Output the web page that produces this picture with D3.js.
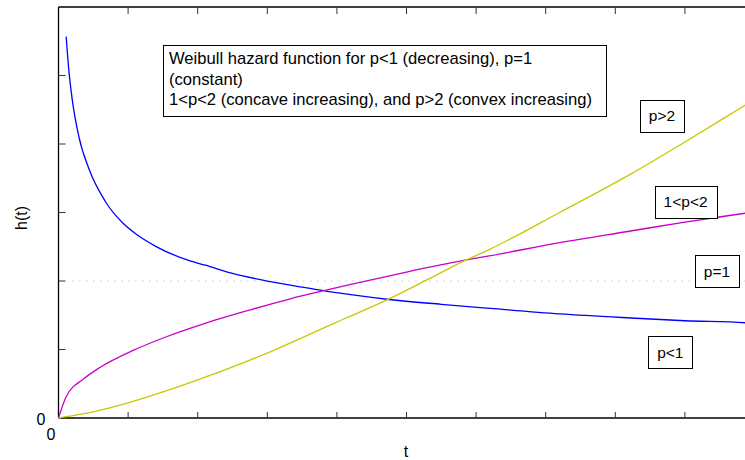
<!DOCTYPE html>
<html><head><meta charset="utf-8">
<script src="https://cdn.jsdelivr.net/npm/d3@7"></script>
<style>body{margin:0;background:#fff}svg{display:block;font-family:"Liberation Sans",Arial,sans-serif}</style>
</head><body><svg id="c" width="745" height="460"></svg>
<script>
// ---- data ----
const xTicks = [0,1,2,3,4,5,6,7,8,9,10];
const yTicks = [0,1,2,3,4,5,6];
const decreasingT = [0.11,0.15,0.20,0.29,0.44,0.68,0.92,1.15,1.39,1.87,2.11,2.5,3.05,3.5,3.86,4.20,4.75,5.5,6.21,7.2,8.22,9.0,9.87,10];
const decreasingH = [5.57,5.06,4.63,4.12,3.63,3.15,2.85,2.66,2.51,2.30,2.23,2.11,1.99,1.91,1.85,1.80,1.73,1.66,1.60,1.52,1.46,1.42,1.39,1.38];
const concaveT = [0,0.11,0.36,0.60,1.08,1.56,2.04,2.76,3.33,3.86,4.2,5.0,5.82,6.21,7.2,8.22,9.0,9.87,10];
const concaveH = [0,0.31,0.57,0.74,0.99,1.19,1.36,1.58,1.74,1.87,1.95,2.13,2.30,2.37,2.56,2.73,2.86,2.99,3.01];
const convexT = [0,0.11,0.5,1.0,1.5,1.9,2.76,3.05,3.91,4.2,4.75,5.3,5.82,6.21,7.2,8.22,9.0,9.87,10];
const convexH = [0,0.02,0.09,0.22,0.38,0.52,0.85,0.97,1.36,1.49,1.74,2.02,2.29,2.47,3.00,3.56,4.03,4.57,4.65];
const constantH = 2;
const titleLines = ["Weibull hazard function for p<1 (decreasing), p=1","(constant)","1<p<2 (concave increasing), and p>2 (convex increasing)"];
const labels = [
  {text:"p>2", t:8.67, h:4.41},
  {text:"1<p<2", t:9.01, h:3.16},
  {text:"p=1", t:9.46, h:2.14},
  {text:"p<1", t:8.79, h:0.96}
];

const svg = d3.select("#c");
const x = d3.scaleLinear().domain([0,10]).range([58.5,754.5]);
const y = d3.scaleLinear().domain([0,6]).range([418,7]);

// frame
const ax = svg.append("g").attr("stroke","#000").attr("stroke-width",1.3);
ax.append("line").attr("x1",x(0)).attr("x2",745).attr("y1",y(0)).attr("y2",y(0));
ax.append("line").attr("x1",x(0)).attr("x2",745).attr("y1",y(6)).attr("y2",y(6));
ax.append("line").attr("x1",x(0)).attr("x2",x(0)).attr("y1",y(0)).attr("y2",y(6));
const tk = svg.append("g").attr("stroke","#333").attr("stroke-width",1);
xTicks.slice(1).forEach(v=>{
  tk.append("line").attr("x1",x(v)).attr("x2",x(v)).attr("y1",y(0)).attr("y2",y(0)-6);
  tk.append("line").attr("x1",x(v)).attr("x2",x(v)).attr("y1",y(6)).attr("y2",y(6)+7);
});
yTicks.slice(1,-1).forEach(v=>{
  tk.append("line").attr("x1",x(0)).attr("x2",x(0)+7).attr("y1",y(v)).attr("y2",y(v));
});

// constant p=1 dotted
svg.append("line").attr("x1",x(0.2)).attr("x2",745).attr("y1",y(constantH)).attr("y2",y(constantH))
  .attr("stroke","#a8a8d0").attr("stroke-width",1.2).attr("stroke-dasharray","1,6");

const line = d3.line().x(d=>x(d[0])).y(d=>y(d[1])).curve(d3.curveMonotoneX);
const series = [
  {t:decreasingT,h:decreasingH,c:"#0000ff"},
  {t:concaveT,h:concaveH,c:"#c800c8"},
  {t:convexT,h:convexH,c:"#c8c800"}
];
series.forEach(s=>{
  svg.append("path").attr("d",line(d3.zip(s.t,s.h))).attr("fill","none")
    .attr("stroke",s.c).attr("stroke-width",1.3);
});

// title box
const tb = svg.append("g");
tb.append("rect").attr("x",163.5).attr("y",45.5).attr("width",443).attr("height",71)
  .attr("fill","#fff").attr("stroke","#000").attr("stroke-width",1);
titleLines.forEach((s,i)=>{
  tb.append("text").attr("x",169).attr("y",64+i*20.5).attr("font-size",16.6).attr("fill","#000").text(s);
});

// labels
labels.forEach(l=>{
  const g = svg.append("g");
  const t = g.append("text").attr("x",x(l.t)).attr("y",y(l.h)+5.5).attr("text-anchor","middle")
    .attr("font-size",15.5).text(l.text);
  const bb = t.node().getBBox();
  g.insert("rect","text").attr("x",Math.round(bb.x-9)+0.5).attr("y",Math.round(y(l.h)-16)+0.5)
    .attr("width",Math.round(bb.width+18)).attr("height",32).attr("fill","#fff").attr("stroke","#000");
});

// axis text
svg.append("text").attr("x",x(0)-3).attr("y",440).attr("text-anchor","end").attr("font-size",16).text("0");
svg.append("text").attr("x",x(0)-13).attr("y",425).attr("text-anchor","end").attr("font-size",16).text("0");
svg.append("text").attr("x",406).attr("y",457).attr("text-anchor","middle").attr("font-size",16).text("t");
svg.append("text").attr("transform","translate(27,218) rotate(-90)").attr("text-anchor","middle").attr("font-size",16).text("h(t)");
</script></body></html>
